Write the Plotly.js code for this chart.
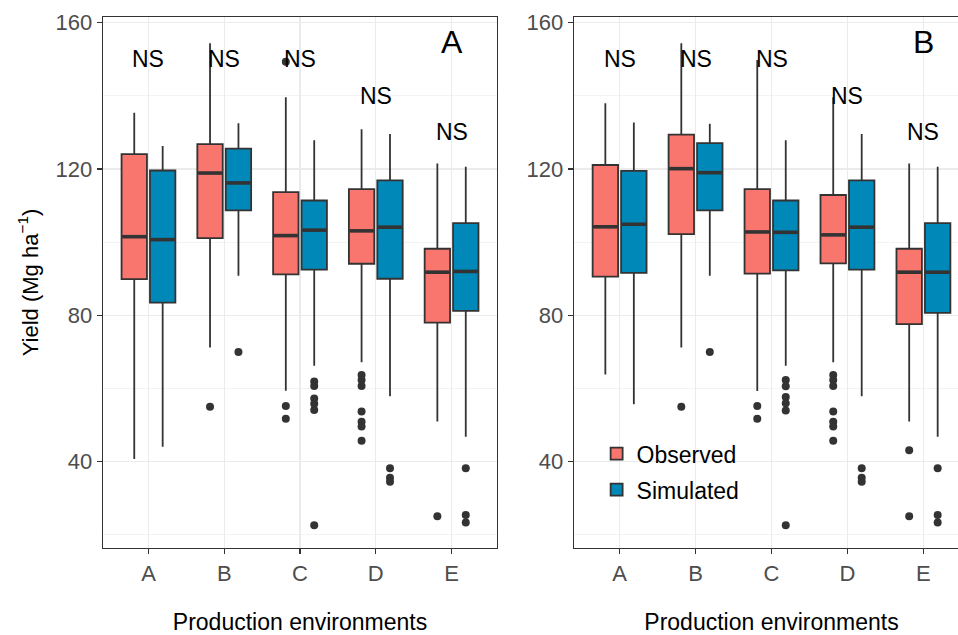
<!DOCTYPE html>
<html><head><meta charset="utf-8">
<script src="https://cdn.plot.ly/plotly-3.0.1.min.js"></script>
<style>html,body{margin:0;padding:0;overflow:hidden;background:#fff}#chart{width:975px;height:635px}</style>
</head><body><div id="chart"></div><script>
const categories = ['A','B','C','D','E'];
const groups = ['Observed','Simulated'];
const nsLabel = 'NS';
const nsY = [150,150,150,140,130];
const panelLabels = ['A','B'];

// Panel A
const obsA_upper = [135.4,154.4,139.6,130.9,121.5];
const obsA_q3    = [124.1,126.8,113.7,114.5,98.2];
const obsA_med   = [101.5,118.9,101.8,103.1,91.8];
const obsA_q1    = [89.9,101.1,91.2,94.1,78.0];
const obsA_lower = [40.7,71.2,59.4,67.2,51.0];
const obsA_out   = [[],[55.0],[149.3,55.2,51.7],[63.7,62.3,60.7,53.7,50.9,49.6,45.7],[25.1]];

const simA_upper = [126.3,132.5,127.9,129.6,120.6];
const simA_q3    = [119.6,125.6,111.4,116.9,105.2];
const simA_med   = [100.7,116.2,103.3,104.1,92.0];
const simA_q1    = [83.5,108.7,92.5,90.0,81.2];
const simA_lower = [44.1,90.8,66.2,57.9,46.8];
const simA_out   = [[],[70.0],[61.9,60.7,57.3,55.8,54.1,22.6],[38.2,35.6,34.5],[38.2,25.4,23.4]];

// Panel B
const obsB_upper = [138.0,154.4,149.8,139.6,121.5];
const obsB_q3    = [121.1,129.4,114.5,112.9,98.2];
const obsB_med   = [104.2,120.1,102.8,102.0,91.8];
const obsB_q1    = [90.6,102.2,91.4,94.2,77.6];
const obsB_lower = [63.8,71.2,59.3,67.2,51.0];
const obsB_out   = [[],[55.0],[55.2,51.7],[63.7,62.3,60.7,53.7,50.9,49.6,45.7],[43.1,25.1]];

const simB_upper = [132.7,132.4,127.9,129.6,120.6];
const simB_q3    = [119.5,127.1,111.4,116.9,105.2];
const simB_med   = [104.9,119.0,102.7,104.1,91.8];
const simB_q1    = [91.6,108.7,92.3,92.5,80.7];
const simB_lower = [55.7,90.8,66.2,57.9,46.8];
const simB_out   = [[],[70.0],[62.3,60.6,57.7,56.0,54.0,22.6],[38.2,35.6,34.5],[38.2,25.4,23.4]];

const colors = ['#F8766D','#0088B9'];
const lineCol = '#333333';
const dodge = 0.1875, boxW = 0.335;
const pos = categories.map((c,i)=>i+1);

const traces = [];
function addBoxes(name, gi, q1, med, q3, lo, hi, outs, xa, ya, showLegend){
  const off = gi===0 ? -dodge : dodge;
  const xs = pos.map(p=>p+off);
  traces.push({type:'box', name:name, legendgroup:name, showlegend:showLegend,
    x:xs, q1:q1, median:med, q3:q3, lowerfence:lo, upperfence:hi,
    width:boxW, whiskerwidth:0, boxpoints:false,
    fillcolor:colors[gi], line:{color:lineCol, width:1.8},
    xaxis:xa, yaxis:ya, hoverinfo:'skip'});
  // thicker median segments
  const mx=[], my=[];
  xs.forEach((x,i)=>{mx.push(x-boxW/2+0.01,x+boxW/2-0.01,null); my.push(med[i],med[i],null);});
  traces.push({type:'scatter', mode:'lines', x:mx, y:my, line:{color:lineCol,width:3.6},
    showlegend:false, xaxis:xa, yaxis:ya, hoverinfo:'skip'});
  const ox=[], oy=[];
  outs.forEach((arr,i)=>arr.forEach(v=>{ox.push(xs[i]); oy.push(v);}));
  traces.push({type:'scatter', mode:'markers', x:ox, y:oy,
    marker:{color:lineCol, size:8}, showlegend:false, xaxis:xa, yaxis:ya, hoverinfo:'skip'});
}
addBoxes(groups[0],0,obsA_q1,obsA_med,obsA_q3,obsA_lower,obsA_upper,obsA_out,'x','y',false);
addBoxes(groups[1],1,simA_q1,simA_med,simA_q3,simA_lower,simA_upper,simA_out,'x','y',false);
addBoxes(groups[0],0,obsB_q1,obsB_med,obsB_q3,obsB_lower,obsB_upper,obsB_out,'x2','y2',true);
addBoxes(groups[1],1,simB_q1,simB_med,simB_q3,simB_lower,simB_upper,simB_out,'x2','y2',true);

const font = 'Liberation Sans, Arial, sans-serif';
const xaxisBase = {range:[0.4,5.6], tickvals:pos, ticktext:categories, showgrid:true,
  gridcolor:'#EBEBEB', gridwidth:1.4, zeroline:false, showline:true, mirror:true,
  linecolor:lineCol, linewidth:1.3, ticks:'outside', ticklen:5, tickwidth:1.3, tickcolor:lineCol,
  tickfont:{family:font, size:22, color:'#4D4D4D'},
  title:{text:'Production environments', font:{family:font, size:23, color:'#000'}, standoff:37}};
const yaxisBase = {range:[16.4,161.56], tickvals:[40,80,120,160], showgrid:true,
  gridcolor:'#EBEBEB', gridwidth:1.4, zeroline:false, showline:true, mirror:true,
  linecolor:lineCol, linewidth:1.3, ticks:'outside', ticklen:5, tickwidth:1.3, tickcolor:lineCol,
  tickfont:{family:font, size:22, color:'#4D4D4D'},
  minor:{tickvals:[20,60,100,140], showgrid:true, gridcolor:'#F0F0F0', gridwidth:0.8, ticks:''}};

const annotations = [];
['x','x2'].forEach((xa,pi)=>{
  const ya = pi===0?'y':'y2';
  pos.forEach((p,i)=>annotations.push({x:p, y:nsY[i], xref:xa, yref:ya, text:nsLabel,
    showarrow:false, font:{family:font, size:23, color:'#000'}}));
  annotations.push({x:5, y:154.6, xref:xa, yref:ya, text:panelLabels[pi], showarrow:false,
    font:{family:font, size:32, color:'#000'}});
});

const layout = {width:975, height:635, margin:{l:103, r:6, t:17, b:87},
  paper_bgcolor:'#fff', plot_bgcolor:'#fff', boxmode:'overlay',
  xaxis:Object.assign({}, xaxisBase, {domain:[0,0.455], anchor:'y'}),
  xaxis2:Object.assign({}, xaxisBase, {domain:[0.5439,1], anchor:'y2'}),
  yaxis:Object.assign({}, yaxisBase, {anchor:'x',
    title:{text:'Yield (Mg ha<sup>−1</sup>)', font:{family:font, size:22, color:'#000'}, standoff:11}}),
  yaxis2:Object.assign({}, yaxisBase, {anchor:'x2'}),
  showlegend:true,
  legend:{x:0.57, y:0.218, xanchor:'left', yanchor:'top', bgcolor:'rgba(0,0,0,0)',
    font:{family:font, size:23, color:'#000'}, tracegroupgap:3},
  annotations:annotations};

Plotly.newPlot('chart', traces, layout, {displayModeBar:false, staticPlot:true});
</script></body></html>
